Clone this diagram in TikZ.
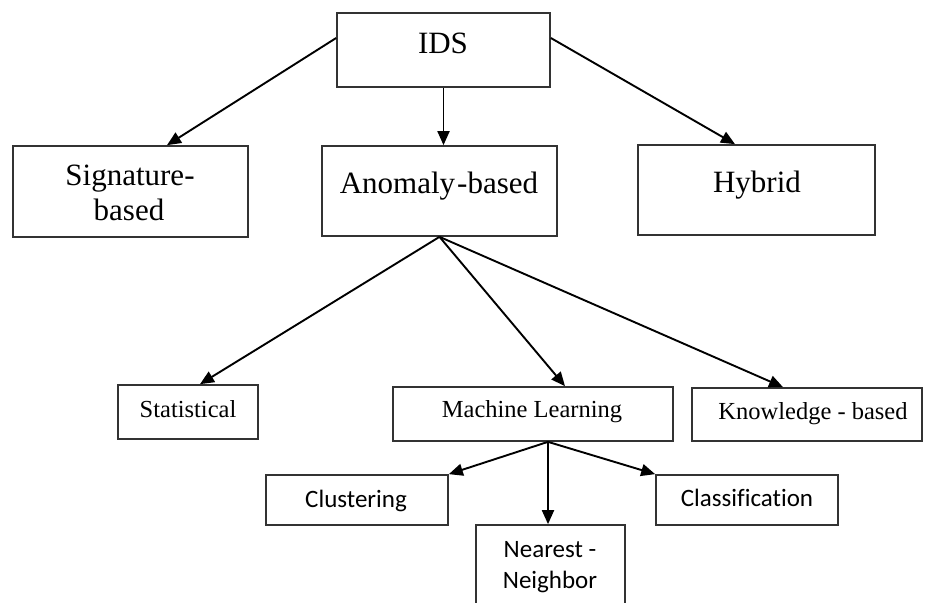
\documentclass[tikz,border=0pt]{standalone}
\usepackage{fontspec}
\setmainfont{Liberation Serif}
\newfontfamily\calibri[Ligatures=NoCommon]{Carlito}
\usetikzlibrary{arrows.meta}
\begin{document}
\begin{tikzpicture}[x=1pt,y=-1pt,
  box/.style={draw=black!80, line width=1.7pt, inner sep=0pt},
  link/.style={line width=1.9pt, -{Triangle[length=14pt,width=12pt]}},
  bigtxt/.style={font=\fontsize{31}{34}\selectfont, inner sep=0pt, anchor=base},
  midtxt/.style={font=\fontsize{24.5}{27}\selectfont, inner sep=0pt, anchor=base},
  sanstxt/.style={font=\calibri\fontsize{25}{30}\selectfont, inner sep=0pt, anchor=base},
]
\fill[white] (0,0) rectangle (925,602);
\clip (0,0) rectangle (925,602);

% boxes
\node[box, minimum width=213, minimum height=74] (ids)   at (443.5,50)  {};
\node[box, minimum width=235, minimum height=91] (sig)   at (130.5,191.5) {};
\node[box, minimum width=235, minimum height=90] (anom)  at (439.5,191) {};
\node[box, minimum width=237, minimum height=90] (hyb)   at (756.5,190) {};
\node[box, minimum width=140, minimum height=54] (stat)  at (188,412)   {};
\node[box, minimum width=280, minimum height=54] (ml)    at (533,414)   {};
\node[box, minimum width=230, minimum height=53] (know)  at (807,414.5) {};
\node[box, minimum width=182, minimum height=50] (clust) at (357,500)   {};
\node[box, minimum width=149, minimum height=115] (near) at (550.5,582.5) {};
\node[box, minimum width=182, minimum height=50] (class) at (747,500)   {};

% labels
\node[bigtxt] (idst)  at (443,53)  {IDS};
\node[bigtxt] (sigt1) at (130,185) {Signature-};
\node[bigtxt] (sigt2) at (129,220) {based};
\node[bigtxt] (anomt) at (439,193) {Anomaly\kern2pt-based};
\node[bigtxt] (hybt)  at (757,192) {Hybrid};
\node[midtxt] (statt) at (188,417) {Statistical};
\node[midtxt] (mlt)   at (532,417) {Machine Learning};
\node[midtxt] (knowt) at (813,419) {Knowledge - based};
\node[sanstxt] (clustt) at (356,507) {Clustering};
\node[sanstxt] (classt) at (747,506) {Classification};
\node[sanstxt] (neart1) at (550,557) {Nearest -};
\node[sanstxt] (neart2) at (550,588) {Neighbor};

% connectors
\draw[link] ([yshift=12pt]ids.west) -- ([xshift=36.5pt]sig.north);
\draw[link] (ids.south) -- (ids.south |- anom.north);
\draw[link] ([yshift=12pt]ids.east) -- ([xshift=-21.5pt]hyb.north);
\draw[link] (anom.south) -- ([xshift=12pt]stat.north);
\draw[link] (anom.south) -- ([xshift=32pt]ml.north);
\draw[link] (anom.south) -- ([xshift=-24pt]know.north);
\coordinate (mlfoot) at ([xshift=15pt]ml.south);
\draw[link] (mlfoot) -- (clust.north east);
\draw[link] (mlfoot) -- (mlfoot |- near.north);
\draw[link] (mlfoot) -- (class.north west);
\end{tikzpicture}
\end{document}
